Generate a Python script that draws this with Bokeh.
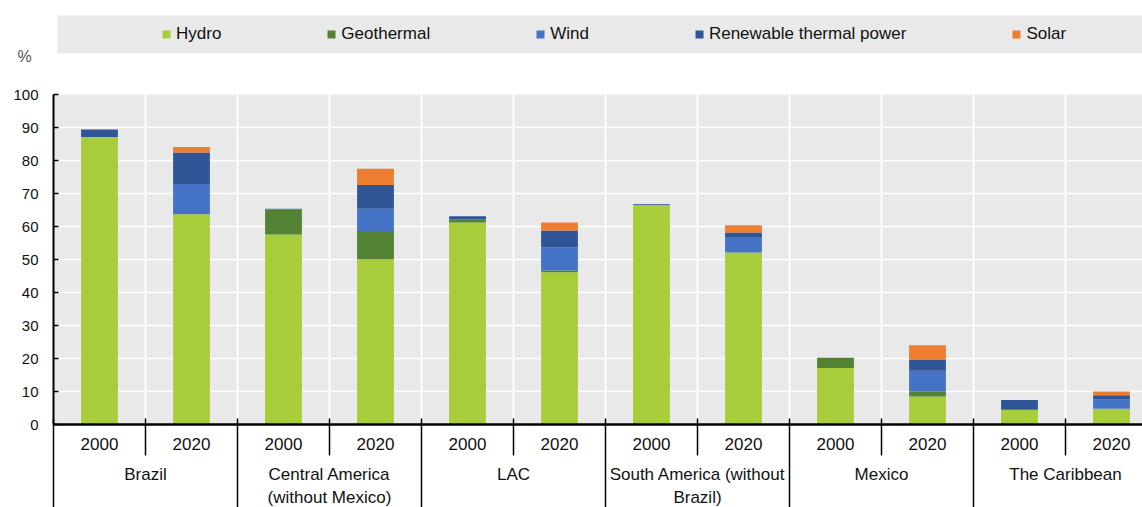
import numpy as np
from bokeh.plotting import figure
from bokeh.models import (ColumnDataSource, Range1d, FixedTicker, Legend, LegendItem,
                          BoxAnnotation)
from bokeh.core.properties import value
from bokeh.embed import file_html
from bokeh.resources import INLINE

# ---------------- data ----------------
regions = ["Brazil", "Central America\n(without Mexico)", "LAC",
           "South America (without\nBrazil)", "Mexico", "The Caribbean"]
years = ["2000", "2020"]
series = ["Hydro", "Geothermal", "Wind", "Renewable thermal power", "Solar"]
hydro = [87.1, 63.7, 57.6, 50.1, 61.2, 46.1, 66.5, 52.1, 17.1, 8.5, 4.5, 4.8]
geothermal = [0.0, 0.0, 7.6, 8.5, 0.8, 0.6, 0.0, 0.0, 3.1, 1.4, 0.0, 0.0]
wind = [0.0, 9.2, 0.2, 6.8, 0.1, 6.9, 0.1, 4.5, 0.0, 6.4, 0.0, 2.8]
renewable_thermal = [2.3, 9.5, 0.0, 7.2, 1.0, 5.2, 0.2, 1.6, 0.0, 3.4, 2.9, 1.3]
solar = [0.0, 1.7, 0.0, 4.9, 0.0, 2.4, 0.0, 2.2, 0.0, 4.3, 0.0, 1.1]
y_ticks = [0, 10, 20, 30, 40, 50, 60, 70, 80, 90, 100]
y_unit = "%"

colors = ["#A8CD3A", "#548235", "#4472C4", "#2F5597", "#ED7D31"]
FONT = "Liberation Sans"
TXT = "#111111"
GREY = "#E9E9E9"

# ---------------- layout constants (page pixels) ----------------
W, H = 1142, 507
LEFT = 53            # pixel column where the category slots start (y axis)
ZERO_PX = 424        # pixel row of value 0
PX_PER_UNIT = 3.3
SLOT_PX = 92

n = len(regions) * len(years)


def py(px):
    """page pixel row -> data value"""
    return (ZERO_PX - px) / PX_PER_UNIT


def pxc(px):
    """page pixel column -> slot coordinate"""
    return (px - LEFT) / SLOT_PX


p = figure(width=W, height=H, x_range=Range1d(pxc(0), pxc(W)), y_range=Range1d(py(H), py(0)),
           output_backend="svg", toolbar_location=None, x_axis_location=None,
           y_axis_location="left", min_border_left=0, min_border_right=0,
           min_border_top=0, min_border_bottom=0, outline_line_color=None,
           background_fill_color="white", border_fill_color="white")

x_pos = np.arange(n) + 0.5
bounds = np.arange(n + 1)

# grey plotting area and legend band
p.add_layout(BoxAnnotation(left=bounds[0], bottom=y_ticks[0], top=y_ticks[-1],
                           fill_color=GREY, fill_alpha=1, line_color=None, level="image"))
p.add_layout(BoxAnnotation(left=pxc(57), bottom=py(53), top=py(15), fill_color=GREY,
                           fill_alpha=1, line_color=None, level="image"))

# y axis drawn at the start of the category slots
ax = p.yaxis[0]
ax.fixed_location = bounds[0]
ax.ticker = FixedTicker(ticks=y_ticks)
ax.bounds = (y_ticks[0], y_ticks[-1])
ax.axis_line_width = 2
ax.axis_line_color = "black"
ax.major_tick_in = 5
ax.major_tick_out = 0
ax.major_tick_line_width = 1.5
ax.minor_tick_line_color = None
ax.major_label_text_font = FONT
ax.major_label_text_font_size = "15px"
ax.major_label_text_color = TXT
ax.major_label_standoff = 15

p.xgrid.visible = False
p.ygrid.visible = False
# horizontal white grid lines inside the grey area
gy = y_ticks[1:-1]
p.segment(x0=[bounds[0]] * len(gy), x1=[bounds[-1]] * len(gy), y0=gy, y1=gy,
          line_color="white", line_width=1.5)
# vertical white lines between slots
inner = bounds[1:-1]
p.segment(x0=inner, x1=inner, y0=[y_ticks[0]] * len(inner), y1=[y_ticks[-1]] * len(inner),
          line_color="white", line_width=2)

src = ColumnDataSource(dict(x=x_pos, Hydro=hydro, Geothermal=geothermal, Wind=wind,
                            **{"Renewable thermal power": renewable_thermal}, Solar=solar))
rs = p.vbar_stack(series, x="x", width=0.4, color=colors, line_color=None, source=src)

legend = Legend(items=[LegendItem(label=s, renderers=[r]) for s, r in zip(series, rs)],
                orientation="horizontal", location=(161, H - 44), glyph_width=10,
                glyph_height=10, label_standoff=5, spacing=105, padding=0, margin=0,
                label_height=20, background_fill_alpha=0, border_line_color=None,
                label_text_font=FONT, label_text_font_size="17px", label_text_color=TXT)
p.add_layout(legend)

# unit label
p.text(x=[pxc(24)], y=[py(56)], text=[y_unit], text_align="center", text_baseline="middle",
       text_font=value(FONT), text_font_size="16px", text_color="#555555")

# x axis line
p.segment(x0=[bounds[0]], x1=[bounds[-1]], y0=[y_ticks[0]], y1=[y_ticks[0]],
          line_color="black", line_width=2.5)

# category separators
grp = len(years)
long_b = bounds[::grp]
short_b = np.array([b for b in bounds if b % grp != 0])
p.segment(x0=long_b, x1=long_b, y0=[py(418)] * len(long_b), y1=[py(H)] * len(long_b),
          line_color="black", line_width=1.5)
p.segment(x0=short_b, x1=short_b, y0=[py(418)] * len(short_b), y1=[py(455)] * len(short_b),
          line_color="black", line_width=1.5)

# category labels
year_labels = [y for _ in regions for y in years]
p.text(x=x_pos, y=[py(443)] * n, text=year_labels, text_align="center",
       text_baseline="middle", text_font=value(FONT), text_font_size="17px",
       text_color=TXT)
grp_x = [float(np.mean(x_pos[i * grp:(i + 1) * grp])) for i in range(len(regions))]
p.text(x=grp_x, y=[py(464)] * len(regions), text=regions, text_align="center",
       text_baseline="top", text_font=value(FONT), text_font_size="17px",
       text_line_height=1.25, text_color=TXT)

open("out.html", "w").write(file_html(p, INLINE))
